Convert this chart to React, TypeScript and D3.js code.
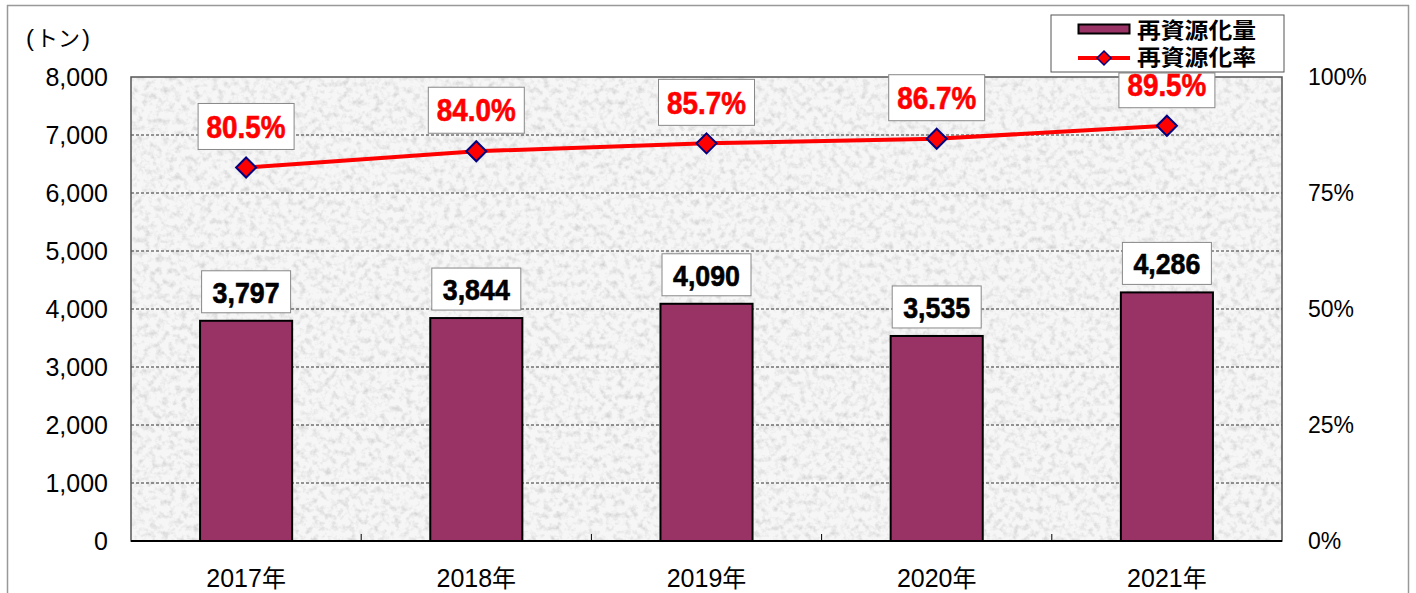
import React from "react";
import * as d3 from "d3";

const categories = ["2017年", "2018年", "2019年", "2020年", "2021年"];
const amounts = [3797, 3844, 4090, 3535, 4286];
const rates = [80.5, 84.0, 85.7, 86.7, 89.5];
const leftTicks = [0, 1000, 2000, 3000, 4000, 5000, 6000, 7000, 8000];
const rightTicks = [0, 25, 50, 75, 100];
const legendLabels = ["再資源化量", "再資源化率"];
const unitLabel = "トン";

const W = 1416;
const H = 593;
const plot = { left: 131, right: 1282, top: 77, bottom: 541 };
const BAR = "#993366";
const LINE = "#ff0000";
const NAVY = "#000080";
const numFont = "'Liberation Sans', Arial, sans-serif";
const cjkFont = "'Noto Sans CJK JP', 'Liberation Sans', sans-serif";

export default function App() {
  const x = d3.scaleBand<string>().domain(categories).range([plot.left, plot.right]).paddingInner(0).paddingOuter(0);
  const yL = d3.scaleLinear().domain([0, 8000]).range([plot.bottom, plot.top]);
  const yR = d3.scaleLinear().domain([0, 100]).range([plot.bottom, plot.top]);
  const barW = x.bandwidth() * 0.4;
  const cx = (c: string) => (x(c) as number) + x.bandwidth() / 2;
  const line = d3
    .line<number>()
    .x((_, i) => cx(categories[i]))
    .y((d) => yR(d));
  const fmt = d3.format(",");
  const diamond = (px: number, py: number, r: number) =>
    `M${px},${py - r}L${px + r},${py}L${px},${py + r}L${px - r},${py}Z`;

  return (
    <svg width={W} height={H} style={{ position: "absolute", left: 0, top: 0, background: "#fff" }}>
      <defs>
        <filter id="granite" x="0" y="0" width="100%" height="100%">
          <feTurbulence type="fractalNoise" baseFrequency="0.16" numOctaves="3" seed="7" result="n" />
          <feColorMatrix
            in="n"
            type="matrix"
            values="0 0 0 0 0  0 0 0 0 0  0 0 0 0 0  -1.9 0 0 0 1.05"
            result="a"
          />
          <feFlood floodColor="#f6f6f6" result="base" />
          <feFlood floodColor="#cdcdcd" result="dark" />
          <feComposite in="dark" in2="a" operator="in" result="spots" />
          <feMerge>
            <feMergeNode in="base" />
            <feMergeNode in="spots" />
          </feMerge>
        </filter>
      </defs>
      {/* outer frame */}
      <rect x={7.5} y={5.5} width={1401} height={H + 20} fill="#fff" stroke="#999" strokeWidth={1.5} />

      {/* plot background */}
      <rect
        x={plot.left}
        y={plot.top}
        width={plot.right - plot.left}
        height={plot.bottom - plot.top}
        fill="#eee"
        filter="url(#granite)"
      />
      {/* gridlines */}
      {leftTicks
        .filter((t) => t > 0 && t < 8000)
        .map((t) => (
          <line
            key={t}
            x1={plot.left}
            x2={plot.right}
            y1={yL(t)}
            y2={yL(t)}
            stroke="#333"
            strokeWidth={1}
            strokeDasharray="3,2"
          />
        ))}
      {/* plot border */}
      <rect
        x={plot.left}
        y={plot.top}
        width={plot.right - plot.left}
        height={plot.bottom - plot.top}
        fill="none"
        stroke="#555"
        strokeWidth={1.5}
      />
      {/* bars */}
      {amounts.map((v, i) => (
        <rect
          key={i}
          x={cx(categories[i]) - barW / 2}
          y={yL(v)}
          width={barW}
          height={plot.bottom - yL(v)}
          fill={BAR}
          stroke="#000"
          strokeWidth={2}
        />
      ))}
      {/* x axis line and ticks */}
      <line x1={plot.left} x2={plot.right} y1={plot.bottom} y2={plot.bottom} stroke="#000" strokeWidth={2} />
      {categories.slice(1).map((c) => (
        <line key={c} x1={x(c)} x2={x(c)} y1={plot.bottom} y2={plot.bottom - 7} stroke="#000" strokeWidth={1} />
      ))}
      {/* left ticks */}
      {leftTicks.map((t) => (
        <text
          key={t}
          x={108}
          y={yL(t)}
          dy="0.36em"
          textAnchor="end"
          fontFamily={numFont}
          fontSize={25}
          fill="#000"
        >
          {fmt(t)}
        </text>
      ))}
      {/* right ticks */}
      {rightTicks.map((t) => (
        <text
          key={t}
          x={1308}
          y={yR(t)}
          dy="0.36em"
          textAnchor="start"
          fontFamily={numFont}
          fontSize={23}
          fill="#000"
        >
          {t + "%"}
        </text>
      ))}
      {/* x labels */}
      {categories.map((c) => (
        <text
          key={c}
          x={cx(c)}
          y={578}
          dy="0.36em"
          textAnchor="middle"
          fontFamily={numFont}
          fontSize={25}
          fill="#000"
        >
          {c.replace("年", "")}
          <tspan fontFamily={cjkFont} fontSize={24}>年</tspan>
        </text>
      ))}
      {/* unit */}
      <text x={26} y={37} dy="0.36em" fontFamily={numFont} fontSize={24} fill="#000">
        (
        <tspan fontFamily={cjkFont} fontSize={22} dx={2}>{unitLabel}</tspan>
        <tspan dx={2}>)</tspan>
      </text>

      {/* line */}
      <path d={line(rates) || ""} fill="none" stroke={LINE} strokeWidth={4} />
      {rates.map((r, i) => (
        <path key={i} d={diamond(cx(categories[i]), yR(r), 10)} fill={LINE} stroke={NAVY} strokeWidth={2} />
      ))}

      {/* bar labels */}
      {amounts.map((v, i) => {
        const bx = cx(categories[i]);
        const bottom = yL(v) - 8;
        return (
          <g key={i}>
            <rect x={bx - 44.5} y={bottom - 42} width={89} height={42} fill="#fff" stroke="#888" strokeWidth={1} />
            <text
              x={bx}
              y={bottom - 21}
              dy="0.36em"
              textAnchor="middle"
              fontFamily={numFont}
              fontWeight="bold"
              fontSize={30}
              textLength={67}
              lengthAdjust="spacingAndGlyphs"
              fill="#000"
              stroke="#000"
              strokeWidth={0.6}
            >
              {fmt(v)}
            </text>
          </g>
        );
      })}
      {/* rate labels */}
      {rates.map((r, i) => {
        const px = cx(categories[i]);
        const bottom = yR(r) - 18;
        const top = Math.max(bottom - 46, 73);
        return (
          <g key={i}>
            <rect x={px - 48} y={top} width={96} height={bottom - top} fill="#fff" stroke="#888" strokeWidth={1} />
            <text
              x={px}
              y={bottom - 23}
              dy="0.36em"
              textAnchor="middle"
              fontFamily={numFont}
              fontWeight="bold"
              fontSize={31}
              textLength={79}
              lengthAdjust="spacingAndGlyphs"
              fill={LINE}
              stroke={LINE}
              strokeWidth={0.6}
            >
              {r.toFixed(1) + "%"}
            </text>
          </g>
        );
      })}

      {/* legend */}
      <g>
        <rect x={1051} y={15} width={233} height={57} fill="#fff" stroke="#555" strokeWidth={1} />
        <rect x={1078.5} y={24.5} width={51} height={9} fill={BAR} stroke="#000" strokeWidth={2} />
        <line x1={1078} x2={1130} y1={58} y2={58} stroke={LINE} strokeWidth={4} />
        <path d={diamond(1104, 58, 7)} fill={LINE} stroke={NAVY} strokeWidth={1.5} />
        {legendLabels.map((l, i) => (
          <text
            key={l}
            x={1137}
            y={30 + i * 27}
            dy="0.36em"
            fontFamily={cjkFont}
            fontWeight="bold"
            fontSize={22}
            textLength={119}
            lengthAdjust="spacingAndGlyphs"
            fill="#000"
          >
            {l}
          </text>
        ))}
      </g>
    </svg>
  );
}
